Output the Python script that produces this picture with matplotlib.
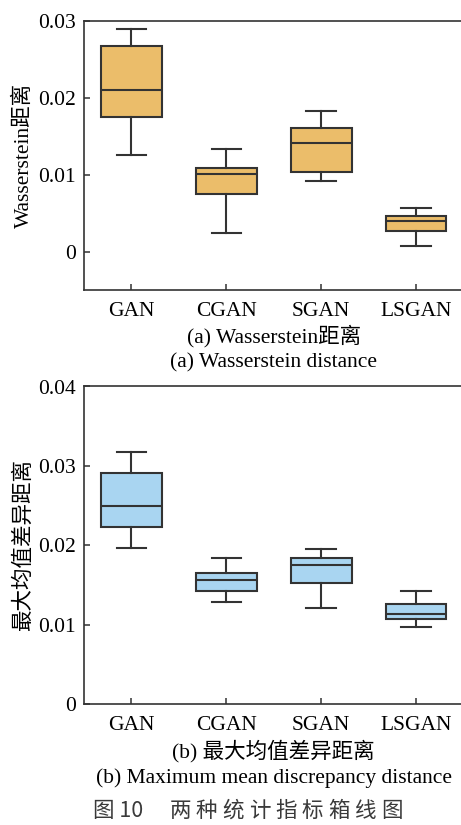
import matplotlib
matplotlib.use("Agg")
import matplotlib.pyplot as plt

# DATA
models = ["GAN", "CGAN", "SGAN", "LSGAN"]

# (a) Wasserstein distance box statistics
w_low = [0.01263, 0.00238, 0.00915, 0.00069]
w_q1 = [0.01745, 0.00750, 0.01037, 0.00264]
w_med = [0.02104, 0.01003, 0.01414, 0.00395]
w_q3 = [0.02669, 0.01085, 0.01602, 0.00460]
w_high = [0.02894, 0.01341, 0.01823, 0.00564]

# (b) maximum mean discrepancy box statistics
m_low = [0.01962, 0.01287, 0.01208, 0.00972]
m_q1 = [0.02235, 0.01421, 0.01526, 0.01065]
m_med = [0.02494, 0.01560, 0.01748, 0.01132]
m_q3 = [0.02910, 0.01652, 0.01836, 0.01258]
m_high = [0.03170, 0.01840, 0.01958, 0.01421]

w_ticks = [0, 0.01, 0.02, 0.03]
w_ticklabels = ["0", "0.01", "0.02", "0.03"]
m_ticks = [0, 0.01, 0.02, 0.03, 0.04]
m_ticklabels = ["0", "0.01", "0.02", "0.03", "0.04"]

plt.rcParams['font.family'] = ['Liberation Serif', 'Noto Sans CJK SC']
plt.rcParams['axes.unicode_minus'] = False

W, H = 461, 825
fig = plt.figure(figsize=(W / 100, H / 100), dpi=100)

edge = "#333333"


def make_stats(low, q1, med, q3, high):
    return [dict(whislo=a, q1=b, med=c, q3=d, whishi=e, fliers=[])
            for a, b, c, d, e in zip(low, q1, med, q3, high)]


def panel(rect, stats, color, ticks, ticklabels, ylim, ylabel):
    ax = fig.add_axes(rect)
    ax.bxp(stats, positions=range(1, len(models) + 1), widths=0.64,
           capwidths=0.31, patch_artist=True, showfliers=False,
           boxprops=dict(facecolor=color, edgecolor=edge, linewidth=1.5),
           medianprops=dict(color=edge, linewidth=1.5),
           whiskerprops=dict(color=edge, linewidth=1.5),
           capprops=dict(color=edge, linewidth=1.5))
    ax.set_xlim(0.5, 4.5)
    ax.set_ylim(*ylim)
    ax.set_xticks(range(1, len(models) + 1))
    ax.set_xticklabels(models, fontsize=15.5)
    ax.set_yticks(ticks)
    ax.set_yticklabels(ticklabels, fontsize=15.5)
    ax.tick_params(direction='in', length=4, width=1.1, color=edge,
                   top=False, right=False, pad=6)
    ax.tick_params(axis='x', pad=9)
    for s in ax.spines.values():
        s.set_color(edge)
        s.set_linewidth(1.2)
    ax.set_ylabel(ylabel, fontsize=15.5)
    ax.yaxis.set_label_coords(-0.132, 0.5)
    return ax


ax1 = panel([84 / W, 1 - 290 / H, 379.5 / W, 269 / H],
            make_stats(w_low, w_q1, w_med, w_q3, w_high), "#EBBD6A",
            w_ticks, w_ticklabels, (-0.005, 0.03), "Wasserstein距离")

ax2 = panel([84 / W, 1 - 704 / H, 379.5 / W, 317.5 / H],
            make_stats(m_low, m_q1, m_med, m_q3, m_high), "#A9D5F1",
            m_ticks, m_ticklabels, (0, 0.04), "最大均值差异距离")

# captions
cx = (84 + 379.5 / 2) / W
fig.text(cx, 1 - 336 / H, "(a) Wasserstein距离", ha='center', va='center', fontsize=15.5)
fig.text(cx, 1 - 363 / H, "(a) Wasserstein distance", ha='center', va='center', fontsize=15.5)
fig.text(cx, 1 - 751 / H, "(b) 最大均值差异距离", ha='center', va='center', fontsize=15.5)
fig.text(cx, 1 - 778 / H, "(b) Maximum mean discrepancy distance", ha='center', va='center', fontsize=15.5)

# figure title with wide character spacing
title_color = "#3a3a3a"
fig.text(93 / W, 1 - 811 / H, "图 10", ha='left', va='center', fontsize=15.5,
         color=title_color, family=['Noto Sans CJK SC', 'DejaVu Sans'])
for i, ch in enumerate("两种统计指标箱线图"):
    fig.text((180 + i * 26.5) / W, 1 - 811 / H, ch, ha='center', va='center',
             fontsize=15.5, color=title_color, family=['Noto Sans CJK SC'])

fig.savefig("out.png", dpi=100)
